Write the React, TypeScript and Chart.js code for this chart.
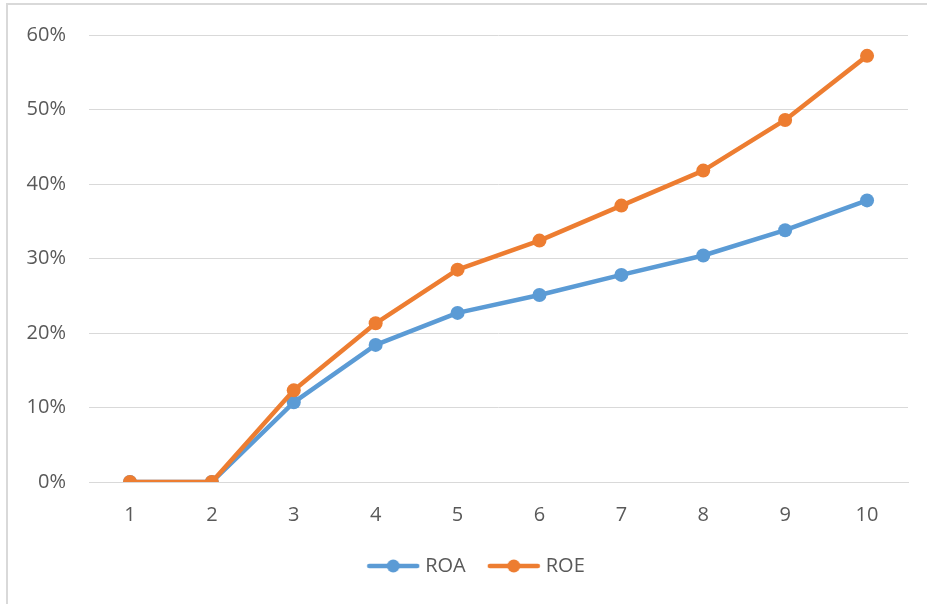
import React, { useEffect, useRef } from "react";
import Chart from "chart.js/auto";

// Period index along the x axis
const periods: string[] = ["1", "2", "3", "4", "5", "6", "7", "8", "9", "10"];

// Return on assets / return on equity (fractions)
const roaValues: number[] = [0, 0, 0.107, 0.184, 0.227, 0.251, 0.278, 0.304, 0.338, 0.378];
const roeValues: number[] = [0, 0, 0.123, 0.213, 0.285, 0.324, 0.371, 0.418, 0.486, 0.572];

// Y-axis range and tick step
const yMin = 0;
const yMax = 0.6;
const yStep = 0.1;

const ROA_COLOR = "#5B9BD5";
const ROE_COLOR = "#ED7D31";
const TEXT_COLOR = "#595959";
const GRID_COLOR = "#D9D9D9";
const FONT_FAMILY = "'Open Sans', 'Noto Sans', sans-serif";

// Legend marker: a short line with a dot in its middle
function makeLegendMarker(color: string): HTMLCanvasElement {
  const c = document.createElement("canvas");
  const w = 54;
  const h = 16;
  c.width = w;
  c.height = h;
  const ctx = c.getContext("2d")!;
  ctx.strokeStyle = color;
  ctx.lineWidth = 4.5;
  ctx.lineCap = "round";
  ctx.beginPath();
  ctx.moveTo(3, h / 2);
  ctx.lineTo(w - 3, h / 2);
  ctx.stroke();
  ctx.fillStyle = color;
  ctx.beginPath();
  ctx.arc(w / 2, h / 2, 6.5, 0, Math.PI * 2);
  ctx.fill();
  return c;
}

// Centre the legend under the plot area rather than the whole canvas
const legendCentering = {
  id: "legendCentering",
  afterLayout(chart: any) {
    const lg = chart.legend;
    if (!lg) return;
    const shift = chart.chartArea.left / 2 - 20.5;
    lg.left += shift;
    lg.right += shift;
  },
};

export default function App() {
  const canvasRef = useRef<HTMLCanvasElement | null>(null);

  useEffect(() => {
    if (!canvasRef.current) return;
    const markers = [makeLegendMarker(ROA_COLOR), makeLegendMarker(ROE_COLOR)];

    const chart = new Chart(canvasRef.current, {
      type: "line",
      data: {
        labels: periods,
        datasets: [
          {
            label: "ROA",
            data: roaValues,
            borderColor: ROA_COLOR,
            backgroundColor: ROA_COLOR,
            borderWidth: 4.5,
            pointRadius: 7,
            pointBorderWidth: 0,
            pointBackgroundColor: ROA_COLOR,
            borderCapStyle: "round",
            borderJoinStyle: "round",
            tension: 0,
            order: 1,
          },
          {
            label: "ROE",
            data: roeValues,
            borderColor: ROE_COLOR,
            backgroundColor: ROE_COLOR,
            borderWidth: 4.5,
            pointRadius: 7,
            pointBorderWidth: 0,
            pointBackgroundColor: ROE_COLOR,
            borderCapStyle: "round",
            borderJoinStyle: "round",
            tension: 0,
            order: 0,
          },
        ],
      },
      options: {
        responsive: false,
        animation: false,
        devicePixelRatio: 1,
        layout: { padding: { left: 0, right: 19, top: 33, bottom: 18 } },
        font: { family: FONT_FAMILY },
        scales: {
          x: {
            type: "category",
            offset: true,
            grid: { display: false, drawTicks: false },
            border: { display: true, color: GRID_COLOR, width: 1 },
            ticks: {
              color: TEXT_COLOR,
              font: { family: FONT_FAMILY, size: 20 },
              padding: 21,
              maxRotation: 0,
            },
            afterFit: (scale: any) => {
              scale.height = 48;
            },
          },
          y: {
            min: yMin,
            max: yMax,
            grid: { color: GRID_COLOR, lineWidth: 1, drawTicks: false },
            border: { display: false },
            ticks: {
              stepSize: yStep,
              color: TEXT_COLOR,
              font: { family: FONT_FAMILY, size: 20 },
              padding: 23,
              callback: (v: any) => `${Math.round(Number(v) * 100)}%`,
            },
            afterFit: (scale: any) => {
              scale.width = 89;
            },
          },
        },
        plugins: {
          tooltip: { enabled: false },
          legend: {
            position: "bottom",
            labels: {
              usePointStyle: true,
              pointStyleWidth: 44,
              padding: 26,
              color: TEXT_COLOR,
              font: { family: FONT_FAMILY, size: 20 },
              sort: (a: any, b: any) => a.datasetIndex - b.datasetIndex,
              generateLabels: (ch: any) => {
                const items = Chart.defaults.plugins.legend.labels.generateLabels(ch);
                return items.map((it: any) => ({
                  ...it,
                  pointStyle: markers[it.datasetIndex],
                }));
              },
            },
          },
        },
      },
      plugins: [legendCentering],
    });

    return () => chart.destroy();
  }, []);

  return (
    <div
      style={{
        position: "fixed",
        left: 0,
        top: 0,
        width: 927,
        height: 604,
        overflow: "hidden",
        background: "#ffffff",
      }}
    >
      <div
        style={{
          position: "absolute",
          left: 6,
          top: 3,
          width: 1000,
          height: 700,
          border: "2px solid #D9D9D9",
          boxSizing: "border-box",
        }}
      />
      <canvas
        ref={canvasRef}
        width={927}
        height={604}
        style={{ position: "absolute", left: 0, top: 0, width: 927, height: 604 }}
      />
    </div>
  );
}
